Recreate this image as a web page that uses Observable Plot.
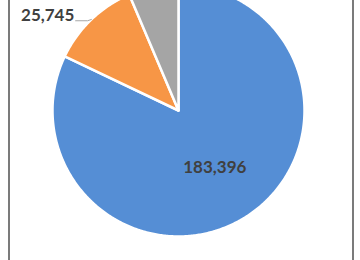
<!DOCTYPE html>
<html>
<head>
<meta charset="utf-8">
<script src="https://cdn.jsdelivr.net/npm/d3@7"></script>
<script src="https://cdn.jsdelivr.net/npm/@observablehq/plot@0.6"></script>
<style>
  html, body { margin: 0; padding: 0; background: #fff; }
  #wrap { position: relative; width: 360px; height: 260px; overflow: hidden; background: #fff; }
  #wrap svg { position: absolute; left: 0; top: 0; }
  #border { position: absolute; left: 8px; top: -20px; width: 346px; height: 300px;
            box-sizing: border-box; border: 2px solid #7b7b7b; pointer-events: none; }
</style>
</head>
<body>
<div id="wrap"><div id="border"></div></div>
<script>
// Slice data (clockwise from 12 o'clock)
const names = ["A", "B", "C"];
const values = [183396, 25745, 14285];
const colors = ["#558ed5", "#f79646", "#a5a5a5"];
const showLabel = [true, true, false];

const rows = names.map((name, i) => ({name, value: values[i], color: colors[i], label: showLabel[i]}));
const arcs = d3.pie().sort(null).value(d => d.value)(rows);

// Outline of each slice: centre, then the outer arc
const outline = arcs.flatMap(a => {
  const n = Math.max(4, Math.ceil((a.endAngle - a.startAngle) / 0.01));
  const pts = [{name: a.data.name, x: 0, y: 0}];
  for (let k = 0; k <= n; ++k) {
    const t = a.startAngle + (a.endAngle - a.startAngle) * k / n;
    pts.push({name: a.data.name, x: Math.sin(t), y: Math.cos(t)});
  }
  return pts;
});

const fmt = d3.format(",");
const mid = a => (a.startAngle + a.endAngle) / 2;

// Large slice: label inside; others: label outside with a leader line
const inside = arcs.filter(a => a.data.label && a.data.value / d3.sum(values) > 0.5)
  .map(a => ({x: 0.54 * Math.sin(mid(a)), y: 0.54 * Math.cos(mid(a)), text: fmt(a.data.value)}));
const outsideArcs = arcs.filter(a => a.data.label && a.data.value / d3.sum(values) <= 0.5);
const leaders = outsideArcs.flatMap(a => {
  const x0 = Math.sin(mid(a)), y0 = Math.cos(mid(a));
  return [{k: a.data.name, x: x0, y: y0}, {k: a.data.name, x: x0 - 0.03, y: y0 - 0.01}, {k: a.data.name, x: x0 - 0.125, y: y0 - 0.01}];
});
const outside = outsideArcs.map(a => ({
  x: Math.sin(mid(a)) - 0.135, y: Math.cos(mid(a)) + 0.03, text: fmt(a.data.value)
}));

const chart = Plot.plot({
  width: 360,
  height: 260,
  margin: 0,
  x: {domain: [-1, 1], range: [52, 304], axis: null},
  y: {domain: [-1, 1], range: [236, -16], axis: null},
  color: {domain: names, range: colors},
  style: {background: "transparent"},
  marks: [
    Plot.line(outline, {x: "x", y: "y", z: "name", fill: "name", stroke: "#fff", strokeWidth: 2.5, curve: "linear-closed", strokeLinejoin: "round"}),
    Plot.line(leaders, {x: "x", y: "y", z: "k", stroke: "#a6a6a6", strokeWidth: 1}),
    Plot.text(inside, {x: "x", y: "y", text: "text", fill: "#404040", fontSize: 17, fontWeight: "bold", fontFamily: "Lato"}),
    Plot.text(outside, {x: "x", y: "y", text: "text", textAnchor: "end", fill: "#404040", fontSize: 17, fontWeight: "bold", fontFamily: "Lato"})
  ]
});
document.getElementById("wrap").prepend(chart);
</script>
</body>
</html>
